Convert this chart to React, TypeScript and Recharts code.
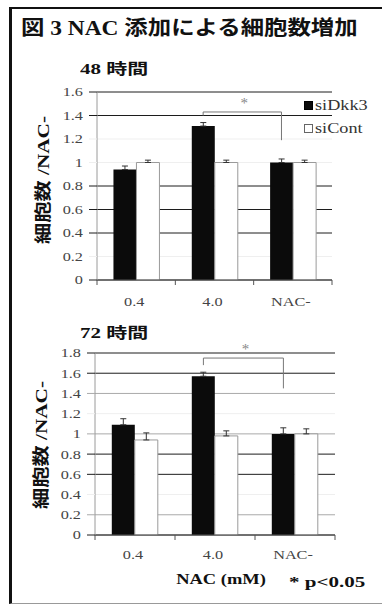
import React from 'react';
import { BarChart, Bar, XAxis, YAxis, CartesianGrid, ErrorBar, Legend, ReferenceLine } from 'recharts';

// NAC concentration (mM)
const categories = ['0.4', '4.0', 'NAC-'];
const seriesNames = ['siDkk3', 'siCont'];

// 48 時間
const dkk48 = [0.94, 1.31, 1.0];
const cont48 = [1.0, 1.0, 1.0];
const dkkErr48 = [0.03, 0.03, 0.03];
const contErr48 = [0.02, 0.02, 0.02];
const ticks48 = [0, 0.2, 0.4, 0.6, 0.8, 1, 1.2, 1.4, 1.6];

// 72 時間
const dkk72 = [1.09, 1.57, 1.0];
const cont72 = [0.94, 0.98, 1.0];
const dkkErr72 = [0.06, 0.04, 0.06];
const contErr72 = [0.07, 0.05, 0.05];
const ticks72 = [0, 0.2, 0.4, 0.6, 0.8, 1, 1.2, 1.4, 1.6, 1.8];

// * bracket between siDkk3 bars of '4.0' and 'NAC-'
const sig48 = { from: '4.0', to: 'NAC-', top: 1.43, leftFoot: 1.4, rightFoot: 1.19 };
const sig72 = { from: '4.0', to: 'NAC-', top: 1.75, leftFoot: 1.68, rightFoot: 1.45 };

const SERIF = "'Liberation Serif', 'Noto Sans CJK JP', serif";
const DARK = '#1c1c1c';
const GRAY = '#a9a9a9';
const FAINT = '#efefef';

// the scanned gridlines print unevenly
const tone48: Record<string, string> = {
  '0': DARK, '0.2': FAINT, '0.4': DARK, '0.6': DARK, '0.8': DARK,
  '1': FAINT, '1.2': FAINT, '1.4': DARK, '1.6': DARK,
};
const tone72: Record<string, string> = {
  '0': DARK, '0.2': GRAY, '0.4': FAINT, '0.6': DARK, '0.8': DARK,
  '1': GRAY, '1.2': FAINT, '1.4': GRAY, '1.6': DARK, '1.8': DARK,
};

const Y_W = 50;
const BAR_GAP = 0.21;

function buildRows(dkk: number[], cont: number[], dkkErr: number[], contErr: number[]) {
  return categories.map((c, i) => ({
    nac: c,
    siDkk3: dkk[i],
    siCont: cont[i],
    dkkErr: [0, dkkErr[i]],
    contErr: [0, contErr[i]],
  }));
}

const rows48 = buildRows(dkk48, cont48, dkkErr48, contErr48);
const rows72 = buildRows(dkk72, cont72, dkkErr72, contErr72);

const gridLine = (tones: Record<string, string>, max: number) => (p: any) => {
  const v = Math.round(((p.y + p.height - p.y1) / p.height) * max * 10) / 10;
  const stroke = tones[String(v)] ?? DARK;
  return <line key={`g-${p.index}`} x1={p.x1} x2={p.x2} y1={p.y1} y2={p.y1} stroke={stroke} strokeWidth={1} />;
};

function YTick({ x, y, payload, tones }: any) {
  const v = payload.value;
  const stroke = tones[String(Math.round(v * 10) / 10)] ?? DARK;
  return (
    <g>
      <line x1={x + 6} x2={x + 14} y1={y} y2={y} stroke={stroke} />
      <text
        transform={`translate(${x},${y}) scale(1.25,1)`}
        textAnchor="end"
        dominantBaseline="central"
        fontFamily={SERIF}
        fontSize={13}
        fill="#444"
      >
        {String(v)}
      </text>
    </g>
  );
}

function XTick({ x, y, payload, index, band, labelDy }: any) {
  const last = index === categories.length - 1;
  return (
    <g>
      <line x1={x - band / 2} x2={x - band / 2} y1={y - 5} y2={y} stroke="#555" />
      {last && <line x1={x + band / 2} x2={x + band / 2} y1={y - 5} y2={y} stroke="#555" />}
      <text
        transform={`translate(${x - 2},${y + labelDy}) scale(1.25,1)`}
        textAnchor="middle"
        dominantBaseline="central"
        fontFamily={SERIF}
        fontSize={13}
        fill="#444"
      >
        {payload.value}
      </text>
    </g>
  );
}

function LegendBox({ payload }: any) {
  const items = [...(payload || [])].sort(
    (a: any, b: any) => seriesNames.indexOf(a.value) - seriesNames.indexOf(b.value),
  );
  return (
    <div style={{ fontFamily: SERIF, fontSize: 14, color: '#333', lineHeight: '23px' }}>
      {items.map((e: any) => (
        <div key={e.value} style={{ whiteSpace: 'nowrap', display: 'flex', alignItems: 'center' }}>
          <span
            style={{
              display: 'inline-block',
              width: 7,
              height: 7,
              background: e.color,
              border: e.color === '#ffffff' ? '1px solid #666' : '1px solid #000',
              marginRight: 2,
            }}
          />
          <span style={{ display: 'inline-block', transform: 'scaleX(1.3)', transformOrigin: 'left center' }}>
            {e.value}
          </span>
        </div>
      ))}
    </div>
  );
}

// bracket pieces are shifted from the band centre onto the siDkk3 bar centre
const shifted = (d: number, star?: boolean) => (p: any) => (
  <g>
    <line x1={p.x1 - d} x2={p.x2 - d} y1={p.y1} y2={p.y2} stroke="#777" strokeWidth={1} />
    {star && (
      <text
        x={(p.x1 + p.x2) / 2 - d + 2}
        y={p.y1 - 4}
        textAnchor="middle"
        fontFamily={SERIF}
        fontSize={15}
        fill="#888"
      >
        *
      </text>
    )}
  </g>
);

function Panel({ rows, ticks, tones, sig, height, margin, legend, labelDy }: any) {
  const max = ticks[ticks.length - 1];
  const plotW = 382 - margin.left - margin.right - Y_W;
  const band = plotW / categories.length;
  const d = ((1 - 2 * BAR_GAP) / 4) * band;
  return (
    <BarChart width={382} height={height} data={rows} margin={margin} barCategoryGap={`${BAR_GAP * 100}%`} barGap={0}>
      <CartesianGrid vertical={false} horizontal={gridLine(tones, max)} />
      <XAxis
        dataKey="nac"
        height={30}
        interval={0}
        axisLine={{ stroke: '#555' }}
        tickLine={false}
        tickSize={5}
        tickMargin={0}
        tick={(p: any) => <XTick {...p} band={band} labelDy={labelDy} />}
      />
      <YAxis
        domain={[0, max]}
        ticks={ticks}
        width={Y_W}
        interval={0}
        axisLine={{ stroke: '#9a9a9a' }}
        tickLine={false}
        tickSize={8}
        tickMargin={6}
        tick={(p: any) => <YTick {...p} tones={tones} />}
      />
      <Bar dataKey="siDkk3" name="siDkk3" fill="#0b0b0b" isAnimationActive={false}>
        <ErrorBar dataKey="dkkErr" direction="y" width={3} stroke="#333" strokeWidth={1} />
      </Bar>
      <Bar dataKey="siCont" name="siCont" fill="#ffffff" stroke="#9a9a9a" strokeWidth={1} isAnimationActive={false}>
        <ErrorBar dataKey="contErr" direction="y" width={3} stroke="#333" strokeWidth={1} />
      </Bar>
      <ReferenceLine
        segment={[{ x: sig.from, y: sig.leftFoot }, { x: sig.from, y: sig.top }]}
        shape={shifted(d)}
      />
      <ReferenceLine
        segment={[{ x: sig.from, y: sig.top }, { x: sig.to, y: sig.top }]}
        shape={shifted(d, true)}
      />
      <ReferenceLine
        segment={[{ x: sig.to, y: sig.top }, { x: sig.to, y: sig.rightFoot }]}
        shape={shifted(d)}
      />
      {legend && (
        <Legend
          layout="vertical"
          align="center"
          verticalAlign="middle"
          content={<LegendBox />}
          wrapperStyle={{ position: 'absolute', top: 94, left: 304, width: 78 }}
        />
      )}
    </BarChart>
  );
}

const bold: React.CSSProperties = {
  position: 'absolute',
  fontFamily: SERIF,
  fontWeight: 700,
  color: '#111',
  whiteSpace: 'nowrap',
};

function YLabel({ cx, cy }: { cx: number; cy: number }) {
  return (
    <div
      style={{
        ...bold,
        left: cx - 70,
        top: cy - 10,
        width: 140,
        height: 20,
        lineHeight: '20px',
        fontSize: 17,
        textAlign: 'center',
        transform: 'rotate(-90deg) scaleX(1.25)',
      }}
    >
      細胞数 /NAC-
    </div>
  );
}

export default function App() {
  return (
    <div style={{ position: 'absolute', left: 0, top: 0, width: 382, height: 605, background: '#fff', overflow: 'hidden' }}>
      <div
        style={{
          position: 'absolute',
          left: 9,
          top: 7,
          width: 380,
          height: 594,
          borderLeft: '3px solid #111',
          borderTop: '2px solid #111',
          borderBottom: '1px solid #999',
        }}
      />
      <div style={{ ...bold, left: 21, top: 18, fontSize: 20, lineHeight: '20px', transform: 'scaleX(1.17)', transformOrigin: 'left center' }}>
        図 3 NAC 添加による細胞数増加
      </div>
      <div style={{ ...bold, left: 80, top: 61, fontSize: 15, lineHeight: '16px', transform: 'scaleX(1.4)', transformOrigin: 'left center' }}>
        48 時間
      </div>
      <div style={{ ...bold, left: 80, top: 325, fontSize: 15, lineHeight: '16px', transform: 'scaleX(1.4)', transformOrigin: 'left center' }}>
        72 時間
      </div>
      <YLabel cx={44} cy={180} />
      <YLabel cx={42} cy={445} />

      <div style={{ position: 'absolute', left: 0, top: 0 }}>
        <Panel
          rows={rows48}
          ticks={ticks48}
          tones={tone48}
          sig={sig48}
          height={320}
          margin={{ top: 92, right: 50, bottom: 10, left: 47 }}
          legend
          labelDy={17}
        />
      </div>
      <div style={{ position: 'absolute', left: 0, top: 320 }}>
        <Panel
          rows={rows72}
          ticks={ticks72}
          tones={tone72}
          sig={sig72}
          height={270}
          margin={{ top: 33, right: 47, bottom: 25, left: 45 }}
          legend={false}
          labelDy={15}
        />
      </div>

      <div style={{ ...bold, left: 171, top: 571, width: 100, fontSize: 15, lineHeight: '16px', textAlign: 'center', transform: 'scaleX(1.23)' }}>
        NAC (mM)
      </div>
      <div style={{ ...bold, left: 289, top: 574, fontSize: 15, lineHeight: '16px', transform: 'scaleX(1.4)', transformOrigin: 'left center' }}>
        * p&lt;0.05
      </div>
    </div>
  );
}
